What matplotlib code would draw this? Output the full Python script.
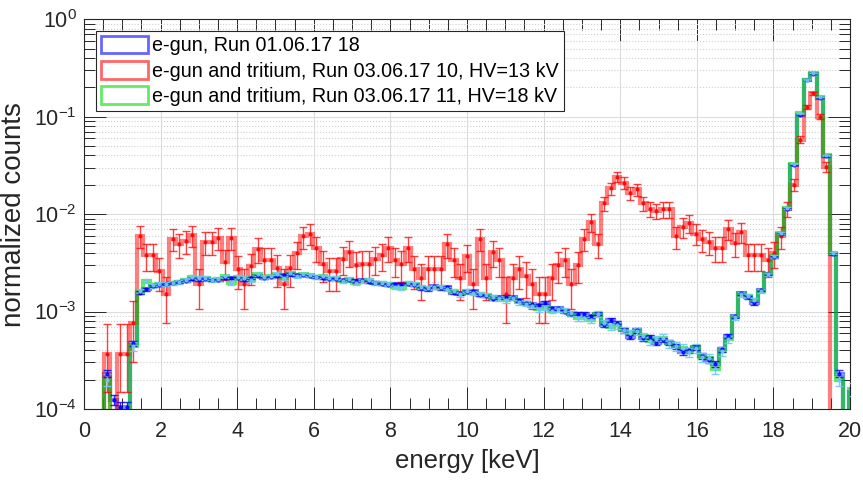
import numpy as np
import matplotlib
matplotlib.use('Agg')
import matplotlib.pyplot as plt
from matplotlib.patches import Patch
from matplotlib.ticker import MultipleLocator, LogLocator, LogFormatterMathtext, NullFormatter

plt.rcParams['font.family'] = ['Liberation Sans', 'DejaVu Sans']
plt.rcParams['mathtext.default'] = 'regular'

# energy binning (keV)
e_start = 0.52
bin_width = 0.1707

# normalized counts per bin (0 = empty bin)
egun_run18 = [
    2.3e-4, 1.24e-4, 1.05e-4, 1.05e-4, 4.7e-4, 1.56e-3, 1.69e-3, 1.83e-3, 1.87e-3, 1.91e-3,
    1.95e-3, 2.02e-3, 2.05e-3, 2.14e-3, 2.1e-3, 2.14e-3, 2.1e-3, 2.1e-3, 2.19e-3, 2.19e-3,
    2.19e-3, 2.1e-3, 2.19e-3, 2.3e-3, 2.2e-3, 2.28e-3, 2.3e-3, 2.35e-3, 2.4e-3, 2.35e-3,
    2.35e-3, 2.3e-3, 2.28e-3, 2.2e-3, 2.15e-3, 2.15e-3, 2.1e-3, 2.1e-3, 2.08e-3, 2.1e-3,
    2.02e-3, 1.98e-3, 1.93e-3, 1.88e-3, 1.93e-3, 1.93e-3, 1.91e-3, 1.87e-3, 1.73e-3, 1.69e-3,
    1.82e-3, 1.73e-3, 1.78e-3, 1.56e-3, 1.54e-3, 1.6e-3, 1.63e-3, 1.48e-3, 1.44e-3, 1.36e-3,
    1.4e-3, 1.42e-3, 1.4e-3, 1.31e-3, 1.23e-3, 1.19e-3, 1.16e-3, 1.23e-3, 1.08e-3, 1.08e-3,
    1.0e-3, 9.4e-4, 9.5e-4, 9.4e-4, 8.9e-4, 9.5e-4, 7.2e-4, 8.2e-4, 7.7e-4, 6.4e-4,
    5.5e-4, 6.4e-4, 5.3e-4, 5.5e-4, 4.8e-4, 5.1e-4, 4.8e-4, 4.4e-4, 3.8e-4, 4.0e-4,
    4.3e-4, 3.5e-4, 3.2e-4, 2.9e-4, 4.1e-4, 5.6e-4, 8.9e-4, 1.54e-3, 1.4e-3, 1.21e-3,
    1.66e-3, 2.45e-3, 3.6e-3, 6.3e-3, 1.14e-2, 3.2e-2, 0.105, 0.237, 0.277, 0.156,
    0.039, 3.9e-3, 2.3e-4, 0, 1.5e-4,
]

tritium_13kv = [
    3.7e-4, 0, 3.7e-4, 3.7e-4, 7.6e-4, 6.0e-3, 3.8e-3, 3.8e-3, 2.6e-3, 1.5e-3,
    5.6e-3, 4.9e-3, 5.3e-3, 6.1e-3, 1.9e-3, 5.2e-3, 5.2e-3, 5.7e-3, 3.2e-3, 5.7e-3,
    2.7e-3, 1.9e-3, 2.9e-3, 4.4e-3, 3.4e-3, 3.4e-3, 2.8e-3, 1.9e-3, 2.8e-3, 3.95e-3,
    5.9e-3, 6.3e-3, 4.5e-3, 3.1e-3, 2.6e-3, 2.6e-3, 3.5e-3, 4.1e-3, 3.0e-3, 3.1e-3,
    3.1e-3, 3.5e-3, 3.8e-3, 4.5e-3, 3.4e-3, 3.1e-3, 4.5e-3, 2.7e-3, 2.2e-3, 2.7e-3,
    2.7e-3, 2.7e-3, 4.9e-3, 3.4e-3, 2.2e-3, 3.7e-3, 1.9e-3, 5.6e-3, 2.2e-3, 4.1e-3,
    3.4e-3, 1.5e-3, 2.2e-3, 2.7e-3, 2.3e-3, 1.9e-3, 1.5e-3, 1.5e-3, 2.2e-3, 3.0e-3,
    3.4e-3, 1.9e-3, 3.0e-3, 5.6e-3, 8.3e-3, 4.9e-3, 1.29e-2, 1.84e-2, 2.41e-2, 2.1e-2,
    1.63e-2, 1.79e-2, 1.29e-2, 1.14e-2, 1.08e-2, 1.12e-2, 1.12e-2, 5.9e-3, 7.4e-3, 8.1e-3,
    6.3e-3, 5.5e-3, 5.2e-3, 4.5e-3, 4.5e-3, 7.1e-3, 5.0e-3, 6.6e-3, 3.8e-3, 3.8e-3,
    3.8e-3, 3.4e-3, 4.0e-3, 5.9e-3, 1.14e-2, 2.0e-2, 5.8e-2, 0.126, 0.173, 0.100,
    0.0305, 0, 0, 0, 0,
]

tritium_18kv = [
    2.0e-4, 0, 0, 0, 4.4e-4, 1.62e-3, 2.05e-3, 1.85e-3, 1.9e-3, 1.93e-3,
    1.98e-3, 2.0e-3, 2.1e-3, 2.25e-3, 2.2e-3, 2.2e-3, 2.12e-3, 2.15e-3, 2.3e-3, 1.95e-3,
    2.25e-3, 2.2e-3, 2.1e-3, 2.4e-3, 2.25e-3, 2.3e-3, 2.45e-3, 2.2e-3, 2.5e-3, 2.3e-3,
    2.4e-3, 2.35e-3, 2.25e-3, 2.3e-3, 2.2e-3, 2.2e-3, 2.05e-3, 2.15e-3, 1.95e-3, 2.05e-3,
    2.1e-3, 1.95e-3, 1.97e-3, 1.9e-3, 1.8e-3, 1.75e-3, 1.95e-3, 1.9e-3, 1.8e-3, 1.75e-3,
    1.8e-3, 1.78e-3, 1.7e-3, 1.62e-3, 1.5e-3, 1.62e-3, 1.55e-3, 1.5e-3, 1.47e-3, 1.4e-3,
    1.37e-3, 1.3e-3, 1.38e-3, 1.25e-3, 1.2e-3, 1.15e-3, 1.05e-3, 1.1e-3, 1.02e-3, 1.05e-3,
    1.02e-3, 9.6e-4, 8.5e-4, 8.6e-4, 8.2e-4, 9.4e-4, 7.6e-4, 7.0e-4, 7.2e-4, 6.5e-4,
    6.0e-4, 6.3e-4, 5.6e-4, 5.0e-4, 5.2e-4, 5.4e-4, 4.7e-4, 4.4e-4, 4.2e-4, 3.8e-4,
    4.2e-4, 3.4e-4, 3.3e-4, 2.6e-4, 3.9e-4, 5.2e-4, 8.7e-4, 1.5e-3, 1.45e-3, 1.3e-3,
    1.62e-3, 2.4e-3, 3.7e-3, 6.4e-3, 1.15e-2, 3.3e-2, 0.108, 0.24, 0.28, 0.16,
    0.04, 4.0e-3, 2.0e-4, 0, 1.6e-4,
]

# normalized value of a single count in each run (for the Poisson error bars)
one_count_egun = 1.5e-6
one_count_13kv = 3.7e-4
one_count_18kv = 4e-6

labels = [
    'e-gun, Run 01.06.17 18',
    'e-gun and tritium, Run 03.06.17 10, HV=13 kV',
    'e-gun and tritium, Run 03.06.17 11, HV=18 kV',
]


def draw_stairs(ax, vals, color, alpha):
    vals = np.asarray(vals, dtype=float)
    edges = e_start + bin_width * np.arange(len(vals) + 1)
    ax.stairs(np.where(vals > 0, vals, 1e-9), edges, baseline=1e-9,
              color=color, lw=3, alpha=alpha, zorder=2)


def draw_errors(ax, vals, one_count, color, alpha):
    vals = np.asarray(vals, dtype=float)
    edges = e_start + bin_width * np.arange(len(vals) + 1)
    centers = 0.5 * (edges[:-1] + edges[1:])
    ok = vals > 0
    err = np.sqrt(vals[ok] * one_count)
    lower = np.minimum(err, 0.6 * vals[ok])
    ax.errorbar(centers[ok], vals[ok], yerr=[lower, err], fmt='.', ms=4,
                color=color, ecolor=color, elinewidth=1, capsize=3,
                capthick=1, alpha=alpha, zorder=3)


fig = plt.figure(figsize=(8.63, 4.8), dpi=100)
ax = fig.add_axes([0.0973, 0.148, 0.8877, 0.812])

draw_stairs(ax, egun_run18, '#0000ff', 0.5)
draw_stairs(ax, tritium_13kv, '#ff0000', 0.5)
draw_stairs(ax, tritium_18kv, '#00dd00', 0.6)
draw_errors(ax, tritium_13kv, one_count_13kv, '#ff0000', 0.75)
draw_errors(ax, egun_run18, one_count_egun, '#0000ff', 0.8)
draw_errors(ax, tritium_18kv, one_count_18kv, '#70c8f0', 0.9)

ax.set_yscale('log')
ax.set_xlim(0, 20)
ax.set_ylim(1e-4, 1)

ax.xaxis.set_major_locator(MultipleLocator(2))
ax.xaxis.set_minor_locator(MultipleLocator(0.5))
ax.yaxis.set_major_locator(LogLocator(base=10))
ax.yaxis.set_major_formatter(LogFormatterMathtext())
ax.yaxis.set_minor_locator(LogLocator(base=10, subs=np.arange(2, 10)))
ax.yaxis.set_minor_formatter(NullFormatter())

ax.set_axisbelow(True)
ax.grid(True, which='major', color='#dcdcdc', lw=0.8)
ax.yaxis.grid(True, which='minor', color='#cfcfcf', lw=0.8, ls=':')

ax.tick_params(which='both', direction='in', top=True, right=True,
               color='#262626', width=0.7, labelsize=15.5, labelcolor='#262626')
ax.tick_params(which='major', length=16)
ax.tick_params(which='minor', length=8)
ax.tick_params(axis='x', pad=9)
ax.tick_params(axis='y', pad=5)
for sp in ax.spines.values():
    sp.set_color('#262626')
    sp.set_linewidth(0.8)

ax.set_xlabel('energy [keV]', fontsize=18.5, color='#262626', labelpad=5)
ax.set_ylabel('normalized counts', fontsize=20, color='#262626', labelpad=5)

handles = [
    Patch(facecolor='none', edgecolor='#0000ff', lw=2, alpha=0.6),
    Patch(facecolor='none', edgecolor='#ff0000', lw=2, alpha=0.6),
    Patch(facecolor='none', edgecolor='#00dd00', lw=2, alpha=0.6),
]
leg = ax.legend(handles, labels, loc='upper left', bbox_to_anchor=(0.016, 0.97),
                fontsize=14.2, fancybox=False, framealpha=1, edgecolor='#262626',
                handlelength=2.4, handleheight=1.0, handletextpad=0.2,
                labelspacing=0.28, borderpad=0.25, borderaxespad=0)
leg.get_frame().set_linewidth(0.8)

fig.savefig('out.png', dpi=100)
